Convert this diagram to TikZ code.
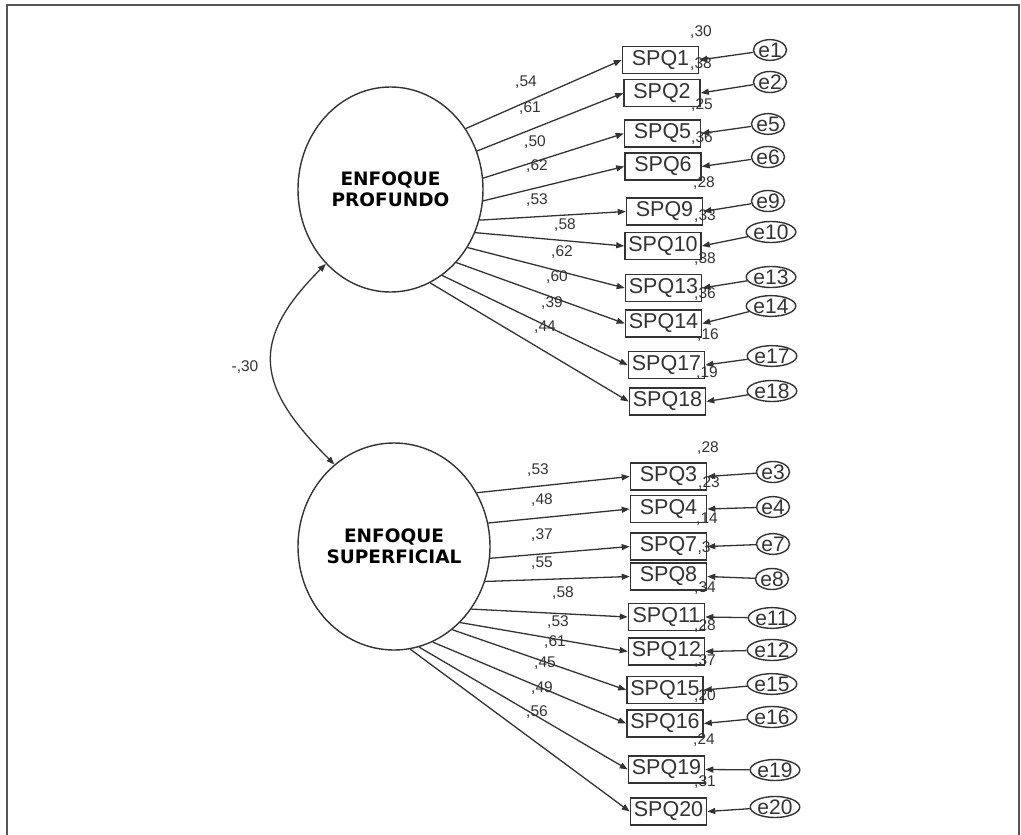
\documentclass[tikz,border=0pt]{standalone}
\usepackage{fontspec}
\setmainfont{Liberation Sans}
\newfontfamily\latfont{DejaVu Sans}
\usetikzlibrary{arrows.meta,shapes.geometric}
\definecolor{ink}{HTML}{333333}
\definecolor{framecol}{HTML}{555555}
\begin{document}
\begin{tikzpicture}[x=1pt,y=-1pt,
 latent/.style={ellipse, draw=ink, line width=1.4pt, inner sep=0pt, align=center,
   font=\latfont\bfseries\fontsize{18.5}{20.5}\selectfont, text=black},
 obs/.style={rectangle, draw=ink, line width=1.6pt, minimum width=76pt, minimum height=27pt,
   inner sep=0pt, font=\fontsize{21.5}{24}\selectfont, text=ink},
 err/.style={ellipse, draw=ink, line width=1.4pt, minimum width=33pt, minimum height=20pt,
   inner sep=0pt, font=\fontsize{21}{21}\selectfont, text=ink},
 load/.style={draw=ink, line width=1.3pt, -{Triangle[length=8pt,width=6pt]}},
 cov/.style={draw=ink, line width=1.3pt, {Triangle[length=8pt,width=6pt]}-{Triangle[length=8pt,width=6pt]}},
 coef/.style={font=\fontsize{15.5}{16}\selectfont, text=ink, inner sep=0pt},
]
\useasboundingbox (0,0) rectangle (1021,835);
\draw[framecol, line width=2pt] (7,836) -- (7,5) -- (1019,5) -- (1019,836);

% latent variables
\node[latent, minimum width=185pt, minimum height=205pt] (F1) at (390.5,189.5) {ENFOQUE\\PROFUNDO};
\node[latent, minimum width=192pt, minimum height=207pt] (F2) at (394,546.5) {ENFOQUE\\SUPERFICIAL};

% observed variables (upper)
\node[obs] (q1)  at (660.5,60)   {SPQ1};
\node[obs] (q2)  at (662,93)     {SPQ2};
\node[obs] (q5)  at (662.5,133.5){SPQ5};
\node[obs] (q6)  at (663,166.5)  {SPQ6};
\node[obs] (q9)  at (664.5,211.5){SPQ9};
\node[obs] (q10) at (663,246)    {SPQ10};
\node[obs] (q13) at (663.5,288)  {SPQ13};
\node[obs] (q14) at (663.5,323.5){SPQ14};
\node[obs] (q17) at (666.5,365)  {SPQ17};
\node[obs] (q18) at (667.5,401.5){SPQ18};
% observed variables (lower)
\node[obs] (q3)  at (668.5,476.5){SPQ3};
\node[obs] (q4)  at (668.5,509)  {SPQ4};
\node[obs] (q7)  at (668.5,546.5){SPQ7};
\node[obs] (q8)  at (668.5,576.5){SPQ8};
\node[obs] (q11) at (666.5,617)  {SPQ11};
\node[obs] (q12) at (666.5,651.5){SPQ12};
\node[obs] (q15) at (665,690)    {SPQ15};
\node[obs] (q16) at (665,723.5)  {SPQ16};
\node[obs] (q19) at (666.5,769.5){SPQ19};
\node[obs] (q20) at (668.5,811.5){SPQ20};

% error terms
\node[err] (e1)  at (770,50)  {e1};
\node[err] (e2)  at (770,82)  {e2};
\node[err] (e5)  at (768,124) {e5};
\node[err] (e6)  at (768,157) {e6};
\node[err] (e9)  at (768,201) {e9};
\node[err] (e10) at (771,232) {e10};
\node[err] (e13) at (771,277) {e13};
\node[err] (e14) at (771,306) {e14};
\node[err] (e17) at (772,356) {e17};
\node[err] (e18) at (772,391) {e18};
\node[err] (e3)  at (773,472) {e3};
\node[err] (e4)  at (773,507) {e4};
\node[err] (e7)  at (773,544) {e7};
\node[err] (e8)  at (772,579) {e8};
\node[err] (e11) at (772,618) {e11};
\node[err] (e12) at (772,650) {e12};
\node[err] (e15) at (772,684) {e15};
\node[err] (e16) at (772,717) {e16};
\node[err] (e19) at (775,770) {e19};
\node[err] (e20) at (775,807) {e20};

% loadings
\draw[load] (F1.39)  -- (q1.west);
\draw[load] (F1.24)  -- (q2.west);
\draw[load] (F1.7)   -- (q5.west);
\draw[load] (F1.-7)  -- (q6.west);
\draw[load] (F1.-19) -- (q9.west);
\draw[load] (F1.-27) -- (q10.west);
\draw[load] (F1.-37) -- (q13.west);
\draw[load] (F1.-48) -- (q14.west);
\draw[load] (F1.-59) -- (q17.west);
\draw[load] (F1.-67) -- (q18.west);

\draw[load] (F2.33)  -- (q3.west);
\draw[load] (F2.14)  -- (q4.west);
\draw[load] (F2.-7)  -- (q7.west);
\draw[load] (F2.-21) -- (q8.west);
\draw[load] (F2.-39) -- (q11.west);
\draw[load] (F2.-49) -- (q12.west);
\draw[load] (F2.-55) -- (q15.west);
\draw[load] (F2.-68) -- (q16.west);
\draw[load] (F2.-76) -- (q19.west);
\draw[load] (F2.-81) -- (q20.west);

% error arrows
\foreach \e/\q in {e1/q1,e2/q2,e5/q5,e6/q6,e9/q9,e10/q10,e13/q13,e14/q14,e17/q17,e18/q18,
                   e3/q3,e4/q4,e7/q7,e8/q8,e11/q11,e12/q12,e15/q15,e16/q16,e19/q19,e20/q20}
  \draw[load] (\e) -- (\q.east);

% covariance
\draw[cov] (F1.229) to[out=225,in=135,looseness=1.4] (F2.126);
\node[coef] (cv) at (245,367) {-,30};

% loading coefficients
\node[coef] at (526,82)  {,54};
\node[coef] at (530,108) {,61};
\node[coef] at (535,142) {,50};
\node[coef] at (537,166) {,62};
\node[coef] at (537,200) {,53};
\node[coef] at (565,225) {,58};
\node[coef] at (562,252) {,62};
\node[coef] at (557,277) {,60};
\node[coef] at (552,303) {,39};
\node[coef] at (545,327) {,44};

\node[coef] at (538,470) {,53};
\node[coef] at (542,500) {,48};
\node[coef] at (542,535) {,37};
\node[coef] at (542,563) {,55};
\node[coef] at (563,593) {,58};
\node[coef] at (558,622) {,53};
\node[coef] at (555,642) {,61};
\node[coef] at (545,663) {,45};
\node[coef] at (542,688) {,49};
\node[coef] at (537,712) {,56};

% squared multiple correlations
\node[coef] at (701,32)  {,30};
\node[coef] at (701,64)  {,38};
\node[coef] at (702,105) {,25};
\node[coef] at (702,138) {,36};
\node[coef] at (704,183) {,28};
\node[coef] at (705,216) {,33};
\node[coef] at (705,259) {,38};
\node[coef] at (705,294) {,36};
\node[coef] at (708,335) {,16};
\node[coef] at (707,373) {,19};

\node[coef] at (708,448) {,28};
\node[coef] at (709,483) {,23};
\node[coef] at (707,519) {,14};
\node[coef] at (704,548) {,3};
\node[coef] at (705,588) {,34};
\node[coef] at (705,626) {,28};
\node[coef] at (705,661) {,37};
\node[coef] at (705,696) {,20};
\node[coef] at (704,740) {,24};
\node[coef] at (705,782) {,31};
\end{tikzpicture}
\end{document}
